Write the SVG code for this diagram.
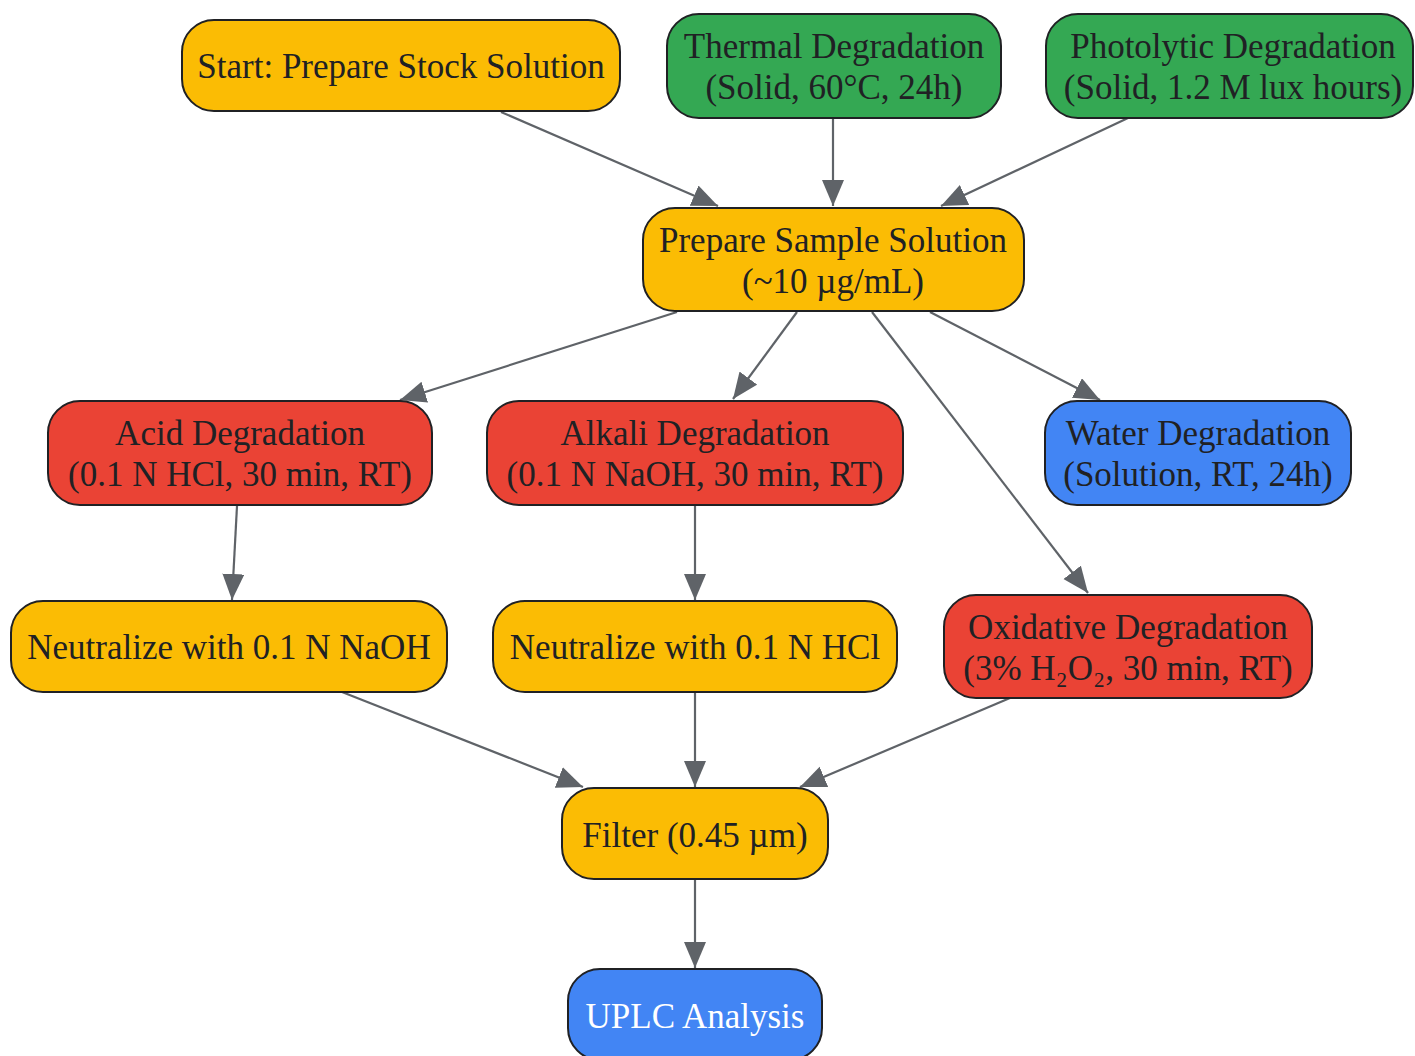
<svg xmlns="http://www.w3.org/2000/svg" width="1415" height="1056" viewBox="0 0 1415 1056">
<defs>
<marker id="arr" markerUnits="userSpaceOnUse" markerWidth="28" markerHeight="24" refX="26" refY="11" orient="auto">
<path d="M0,0 L26,11 L0,22 Z" fill="#5f6368"/>
</marker>
<style>
.n rect{stroke:#202124;stroke-width:2}
.y rect{fill:#fbbc04}
.g rect{fill:#34a853}
.r rect{fill:#ea4335}
.b rect{fill:#4285f4}
text{font-family:"Liberation Serif","Times New Roman",serif;font-size:35px;fill:#202124;text-anchor:middle}
.w text{fill:#ffffff}
#edges line{stroke:#5f6368;stroke-width:2.2;marker-end:url(#arr)}
</style>
</defs>
<rect width="1415" height="1056" fill="#ffffff"/>
<g id="edges">
<line x1="501" y1="112" x2="718" y2="206"/>
<line x1="833" y1="118" x2="833" y2="206"/>
<line x1="1128" y1="118" x2="941" y2="206"/>
<line x1="677" y1="312" x2="400" y2="400"/>
<line x1="797" y1="312" x2="733" y2="399"/>
<line x1="872" y1="312" x2="1088" y2="593"/>
<line x1="930" y1="312" x2="1100" y2="400"/>
<line x1="237" y1="506" x2="232" y2="600"/>
<line x1="695" y1="506" x2="695" y2="600"/>
<line x1="342" y1="692" x2="583" y2="787"/>
<line x1="695" y1="692" x2="695" y2="787"/>
<line x1="1010" y1="698" x2="800" y2="787"/>
<line x1="695" y1="880" x2="695" y2="968"/>
</g>
<g id="start" class="n y"><rect x="182" y="20" width="438" height="91" rx="32"/><text x="401" y="78">Start: Prepare Stock Solution</text></g>
<g id="thermal" class="n g"><rect x="667" y="14" width="334" height="104" rx="32"/><text x="834" y="58">Thermal Degradation</text><text x="834" y="99">(Solid, 60°C, 24h)</text></g>
<g id="photo" class="n g"><rect x="1046" y="14" width="367" height="104" rx="32"/><text x="1233" y="58">Photolytic Degradation</text><text x="1233" y="99">(Solid, 1.2 M lux hours)</text></g>
<g id="sample" class="n y"><rect x="643" y="208" width="381" height="103" rx="32"/><text x="833" y="252">Prepare Sample Solution</text><text x="833" y="293">(~10 µg/mL)</text></g>
<g id="acid" class="n r"><rect x="48" y="401" width="384" height="104" rx="32"/><text x="240" y="445">Acid Degradation</text><text x="240" y="486">(0.1 N HCl, 30 min, RT)</text></g>
<g id="alkali" class="n r"><rect x="487" y="401" width="416" height="104" rx="32"/><text x="695" y="445">Alkali Degradation</text><text x="695" y="486">(0.1 N NaOH, 30 min, RT)</text></g>
<g id="water" class="n b"><rect x="1045" y="401" width="306" height="104" rx="32"/><text x="1198" y="445">Water Degradation</text><text x="1198" y="486">(Solution, RT, 24h)</text></g>
<g id="neutnaoh" class="n y"><rect x="11" y="601" width="436" height="91" rx="32"/><text x="229" y="659">Neutralize with 0.1 N NaOH</text></g>
<g id="neuthcl" class="n y"><rect x="493" y="601" width="404" height="91" rx="32"/><text x="695" y="659">Neutralize with 0.1 N HCl</text></g>
<g id="oxid" class="n r"><rect x="944" y="595" width="368" height="103" rx="32"/><text x="1128" y="639">Oxidative Degradation</text><text x="1128" y="680">(3% H₂O₂, 30 min, RT)</text></g>
<g id="filter" class="n y"><rect x="562" y="788" width="266" height="91" rx="32"/><text x="695" y="847">Filter (0.45 µm)</text></g>
<g id="uplc" class="n b w"><rect x="568" y="969" width="254" height="91" rx="32"/><text x="695" y="1028">UPLC Analysis</text></g>
</svg>
